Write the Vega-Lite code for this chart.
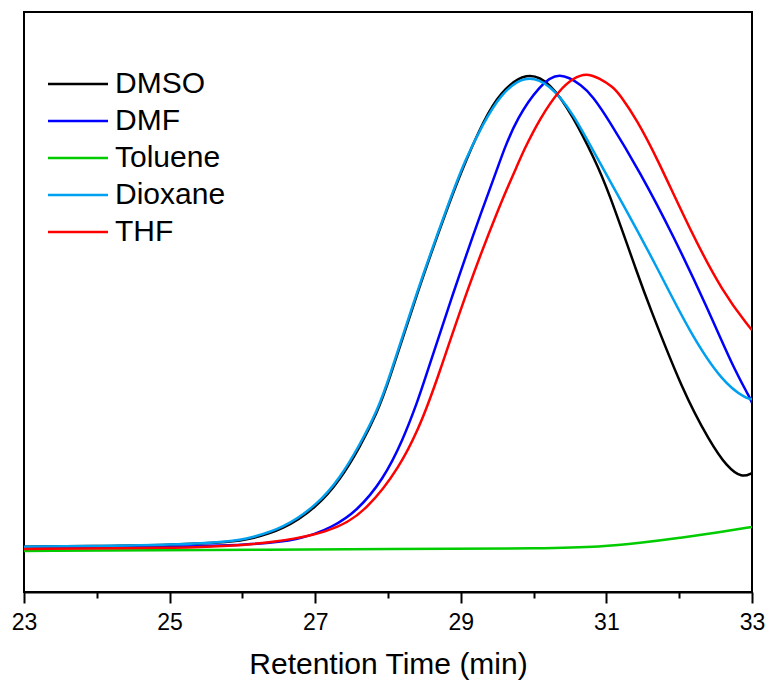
{
  "$schema": "https://vega.github.io/schema/vega-lite/v6.json",
  "width": 728,
  "height": 580,
  "autosize": {"type": "none"},
  "padding": {"left": 24, "top": 12, "right": 17, "bottom": 91},
  "background": "white",
  "config": {
    "view": {"stroke": "black", "strokeWidth": 2},
    "font": "Liberation Sans"
  },
  "data": {
    "values": [
      {"s": "DMSO", "t": 23.000, "v": 45.3},
      {"s": "DMSO", "t": 24.044, "v": 46},
      {"s": "DMSO", "t": 25.005, "v": 47},
      {"s": "DMSO", "t": 25.871, "v": 50},
      {"s": "DMSO", "t": 26.104, "v": 53},
      {"s": "DMSO", "t": 26.558, "v": 62},
      {"s": "DMSO", "t": 27.025, "v": 85},
      {"s": "DMSO", "t": 27.341, "v": 112},
      {"s": "DMSO", "t": 27.615, "v": 145},
      {"s": "DMSO", "t": 27.849, "v": 179},
      {"s": "DMSO", "t": 28.000, "v": 208},
      {"s": "DMSO", "t": 28.398, "v": 299},
      {"s": "DMSO", "t": 28.852, "v": 392},
      {"s": "DMSO", "t": 29.085, "v": 434},
      {"s": "DMSO", "t": 29.305, "v": 470},
      {"s": "DMSO", "t": 29.538, "v": 500},
      {"s": "DMSO", "t": 29.909, "v": 521},
      {"s": "DMSO", "t": 30.225, "v": 510},
      {"s": "DMSO", "t": 30.541, "v": 476},
      {"s": "DMSO", "t": 30.843, "v": 432},
      {"s": "DMSO", "t": 31.008, "v": 405},
      {"s": "DMSO", "t": 31.462, "v": 311},
      {"s": "DMSO", "t": 31.558, "v": 292},
      {"s": "DMSO", "t": 32.052, "v": 200},
      {"s": "DMSO", "t": 32.423, "v": 150},
      {"s": "DMSO", "t": 32.657, "v": 125},
      {"s": "DMSO", "t": 32.863, "v": 114},
      {"s": "DMSO", "t": 33.000, "v": 119},

      {"s": "DMF", "t": 23.000, "v": 44},
      {"s": "DMF", "t": 25.005, "v": 45},
      {"s": "DMF", "t": 26.104, "v": 47},
      {"s": "DMF", "t": 26.791, "v": 52},
      {"s": "DMF", "t": 27.245, "v": 65},
      {"s": "DMF", "t": 27.574, "v": 81},
      {"s": "DMF", "t": 27.931, "v": 112},
      {"s": "DMF", "t": 28.206, "v": 152},
      {"s": "DMF", "t": 28.412, "v": 192},
      {"s": "DMF", "t": 28.481, "v": 207},
      {"s": "DMF", "t": 28.893, "v": 299},
      {"s": "DMF", "t": 29.305, "v": 385},
      {"s": "DMF", "t": 29.511, "v": 425},
      {"s": "DMF", "t": 29.580, "v": 440},
      {"s": "DMF", "t": 29.772, "v": 474},
      {"s": "DMF", "t": 30.088, "v": 507},
      {"s": "DMF", "t": 30.349, "v": 521},
      {"s": "DMF", "t": 30.679, "v": 506},
      {"s": "DMF", "t": 30.816, "v": 495},
      {"s": "DMF", "t": 31.008, "v": 475},
      {"s": "DMF", "t": 31.462, "v": 420},
      {"s": "DMF", "t": 31.915, "v": 357},
      {"s": "DMF", "t": 32.382, "v": 285},
      {"s": "DMF", "t": 32.739, "v": 225},
      {"s": "DMF", "t": 32.973, "v": 194},
      {"s": "DMF", "t": 33.000, "v": 189},

      {"s": "Toluene", "t": 23.000, "v": 41},
      {"s": "Toluene", "t": 25.418, "v": 42},
      {"s": "Toluene", "t": 28.165, "v": 43},
      {"s": "Toluene", "t": 30.225, "v": 43.5},
      {"s": "Toluene", "t": 30.912, "v": 45},
      {"s": "Toluene", "t": 31.462, "v": 49},
      {"s": "Toluene", "t": 32.011, "v": 54},
      {"s": "Toluene", "t": 32.560, "v": 60},
      {"s": "Toluene", "t": 33.000, "v": 65},

      {"s": "Dioxane", "t": 23.000, "v": 45.3},
      {"s": "Dioxane", "t": 24.044, "v": 46},
      {"s": "Dioxane", "t": 25.005, "v": 47},
      {"s": "Dioxane", "t": 25.871, "v": 50.5},
      {"s": "Dioxane", "t": 26.104, "v": 54},
      {"s": "Dioxane", "t": 26.558, "v": 63.5},
      {"s": "Dioxane", "t": 27.025, "v": 87},
      {"s": "Dioxane", "t": 27.341, "v": 114},
      {"s": "Dioxane", "t": 27.615, "v": 147.5},
      {"s": "Dioxane", "t": 27.849, "v": 181},
      {"s": "Dioxane", "t": 28.000, "v": 210},
      {"s": "Dioxane", "t": 28.398, "v": 301},
      {"s": "Dioxane", "t": 28.852, "v": 393},
      {"s": "Dioxane", "t": 29.058, "v": 432},
      {"s": "Dioxane", "t": 29.305, "v": 468},
      {"s": "Dioxane", "t": 29.538, "v": 497},
      {"s": "Dioxane", "t": 29.880, "v": 518},
      {"s": "Dioxane", "t": 30.225, "v": 508},
      {"s": "Dioxane", "t": 30.541, "v": 479},
      {"s": "Dioxane", "t": 30.871, "v": 434},
      {"s": "Dioxane", "t": 31.228, "v": 388},
      {"s": "Dioxane", "t": 31.695, "v": 325},
      {"s": "Dioxane", "t": 32.148, "v": 259},
      {"s": "Dioxane", "t": 32.602, "v": 209},
      {"s": "Dioxane", "t": 32.931, "v": 193},
      {"s": "Dioxane", "t": 33.000, "v": 193},

      {"s": "THF", "t": 23.000, "v": 43},
      {"s": "THF", "t": 25.005, "v": 44},
      {"s": "THF", "t": 26.104, "v": 46},
      {"s": "THF", "t": 27.245, "v": 59},
      {"s": "THF", "t": 27.712, "v": 82},
      {"s": "THF", "t": 28.165, "v": 125},
      {"s": "THF", "t": 28.440, "v": 167},
      {"s": "THF", "t": 28.549, "v": 188},
      {"s": "THF", "t": 28.673, "v": 212},
      {"s": "THF", "t": 29.085, "v": 302},
      {"s": "THF", "t": 29.538, "v": 388},
      {"s": "THF", "t": 29.786, "v": 428},
      {"s": "THF", "t": 29.854, "v": 440},
      {"s": "THF", "t": 30.088, "v": 474},
      {"s": "THF", "t": 30.363, "v": 503},
      {"s": "THF", "t": 30.550, "v": 514},
      {"s": "THF", "t": 30.720, "v": 519},
      {"s": "THF", "t": 30.900, "v": 514},
      {"s": "THF", "t": 31.091, "v": 505},
      {"s": "THF", "t": 31.187, "v": 497},
      {"s": "THF", "t": 31.420, "v": 472},
      {"s": "THF", "t": 31.695, "v": 434},
      {"s": "THF", "t": 32.148, "v": 362},
      {"s": "THF", "t": 32.602, "v": 299},
      {"s": "THF", "t": 32.973, "v": 264},
      {"s": "THF", "t": 33.000, "v": 262}
    ]
  },
  "mark": {"type": "line", "interpolate": "basis", "strokeWidth": 2.5, "clip": true},
  "encoding": {
    "x": {
      "field": "t",
      "type": "quantitative",
      "scale": {"domain": [23, 33], "nice": false, "zero": false},
      "axis": {
        "title": "Retention Time (min)",
        "values": [23, 24, 25, 26, 27, 28, 29, 30, 31, 32, 33],
        "labelExpr": "datum.value % 2 == 1 ? datum.label : ''",
        "tickSize": {"condition": {"test": "datum.value % 2 == 0", "value": 6}, "value": 11},
        "grid": false,
        "domainColor": "black",
        "domainWidth": 2,
        "tickColor": "black",
        "tickWidth": 2,
        "labelFontSize": 23,
        "labelColor": "black",
        "labelFont": "Liberation Sans",
        "labelPadding": 8,
        "labelFlush": false,
        "titleFontSize": 30,
        "titleFontWeight": "normal",
        "titleFont": "Liberation Sans",
        "titleColor": "black",
        "titlePadding": 15
      }
    },
    "y": {
      "field": "v",
      "type": "quantitative",
      "scale": {"domain": [0, 580], "nice": false, "zero": false},
      "axis": null
    },
    "color": {
      "field": "s",
      "type": "nominal",
      "sort": ["DMSO", "DMF", "Toluene", "Dioxane", "THF"],
      "scale": {
        "domain": ["DMSO", "DMF", "Toluene", "Dioxane", "THF"],
        "range": ["#000000", "#0000ff", "#00cc00", "#00a0f0", "#ff0000"]
      },
      "legend": {
        "title": null,
        "orient": "none",
        "legendX": 39,
        "legendY": 57,
        "padding": 0,
        "symbolType": "M-3,0H3",
        "symbolSize": 400,
        "symbolStrokeWidth": 2.5,
        "labelFontSize": 30,
        "labelFont": "Liberation Sans",
        "labelColor": "black",
        "labelOffset": 22,
        "rowPadding": 7
      }
    }
  }
}
